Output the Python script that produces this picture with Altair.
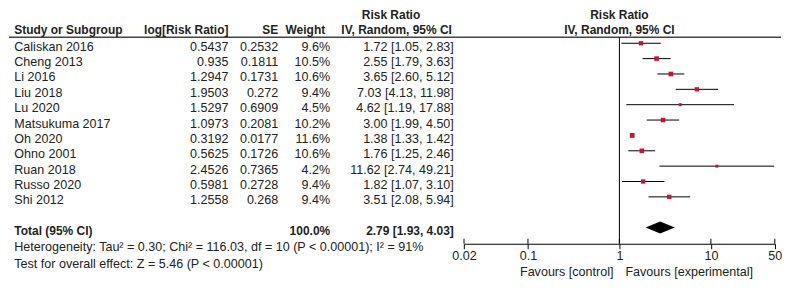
import altair as alt
import pandas as pd

# ---------------- data ----------------
studies = ["Caliskan 2016", "Cheng 2013", "Li 2016", "Liu 2018", "Lu 2020",
           "Matsukuma 2017", "Oh 2020", "Ohno 2001", "Ruan 2018", "Russo 2020", "Shi 2012"]
log_rr = ["0.5437", "0.935", "1.2947", "1.9503", "1.5297", "1.0973", "0.3192",
          "0.5625", "2.4526", "0.5981", "1.2558"]
se_vals = ["0.2532", "0.1811", "0.1731", "0.272", "0.6909", "0.2081", "0.0177",
           "0.1726", "0.7365", "0.2728", "0.268"]
weights = [9.6, 10.5, 10.6, 9.4, 4.5, 10.2, 11.6, 10.6, 4.2, 9.4, 9.4]
rr = [1.72, 2.55, 3.65, 7.03, 4.62, 3.00, 1.38, 1.76, 11.62, 1.82, 3.51]
ci_lo = [1.05, 1.79, 2.60, 4.13, 1.19, 1.99, 1.33, 1.25, 2.74, 1.07, 2.08]
ci_hi = [2.83, 3.63, 5.12, 11.98, 17.88, 4.50, 1.42, 2.46, 49.21, 3.10, 5.94]

total_weight = 100.0
total_rr, total_lo, total_hi = 2.79, 1.93, 4.03
het_text = "Heterogeneity: Tau\u00b2 = 0.30; Chi\u00b2 = 116.03, df = 10 (P < 0.00001); I\u00b2 = 91%"
test_text = "Test for overall effect: Z = 5.46 (P < 0.00001)"
axis_ticks = [0.02, 0.1, 1, 10, 50]

# ---------------- styling ----------------
F = "Liberation Sans"
FS = 12.6
FB = 12
TC = "#222222"
RED = "#CC1133"
DY = 7.5
H = 236  # plot height (axis line position)

xscale = alt.Scale(type="log", domain=[0.02, 50], range=[456.2, 767.8], nice=False)
yscale = alt.Scale(domain=[0, 10], range=[35, 189], nice=False, zero=False)
xaxis = alt.Axis(values=axis_ticks, format="~g", title=None, grid=False,
                 domainColor="black", tickColor="black", tickSize=5,
                 labelFont=F, labelFontSize=FS, labelColor=TC, labelPadding=1,
                 labelFlush=False, labelOverlap=False)

df = pd.DataFrame({
    "row": list(range(len(studies))),
    "study": studies,
    "logrr": log_rr,
    "se": se_vals,
    "w": weights,
    "wt": [f"{w:.1f}%" for w in weights],
    "ci": [f"{a:.2f} [{b:.2f}, {c:.2f}]" for a, b, c in zip(rr, ci_lo, ci_hi)],
    "rr": rr, "lo": ci_lo, "hi": ci_hi,
})

Yrow = alt.Y("row:Q", scale=yscale, axis=None)


def Yd(v):
    return alt.YDatum(v, scale=yscale, axis=None)


def col(field, xpx, align):
    return alt.Chart(df).mark_text(
        align=align, baseline="alphabetic", dy=DY, font=F, fontSize=FS, color=TC
    ).encode(x=alt.value(xpx), y=Yrow, text=f"{field}:N")


def label(text, x, row, align, bold=False, dx=0):
    return alt.Chart(pd.DataFrame({"t": [text]})).mark_text(
        align=align, baseline="alphabetic", dy=DY, dx=dx, font=F,
        fontSize=FB if bold else FS, fontWeight="bold" if bold else "normal", color=TC
    ).encode(x=x, y=Yd(row), text="t:N")


X1 = alt.XDatum(1, scale=xscale, axis=xaxis)
layers = []

# header rule and vertical line of no effect
layers.append(alt.Chart(pd.DataFrame({"t": [0]})).mark_rule(color="#444444", strokeWidth=1.5)
              .encode(x=alt.value(0), x2=alt.value(774), y=Yd(-0.39)))
layers.append(alt.Chart(pd.DataFrame({"t": [0]})).mark_rule(color="black", strokeWidth=1)
              .encode(x=X1, y=Yd(-0.39), y2=alt.value(H)))

# upward tick marks on axis
layers.append(alt.Chart(pd.DataFrame({"t": axis_ticks})).mark_rule(color="black")
              .encode(x=alt.X("t:Q", scale=xscale, axis=xaxis), y=alt.value(H - 5), y2=alt.value(H)))

# CI lines and squares
layers.append(alt.Chart(df).mark_rule(color="black", strokeWidth=1).encode(
    x=alt.X("lo:Q", scale=xscale, axis=xaxis), x2="hi:Q", y=Yrow))
layers.append(alt.Chart(df).mark_square(color=RED, opacity=1).encode(
    x=alt.X("rr:Q", scale=xscale, axis=xaxis), y=Yrow,
    size=alt.Size("w:Q", scale=alt.Scale(domain=[0, 12], range=[0, 24]), legend=None)))

# diamond for total
h = 0.39
dd = pd.DataFrame({"x": [total_lo, total_rr, total_hi],
                   "ya": [12, 12 - h, 12], "yb": [12, 12 + h, 12]})
layers.append(alt.Chart(dd).mark_area(color="black", orient="vertical", interpolate="linear")
              .encode(x=alt.X("x:Q", scale=xscale, axis=xaxis),
                      y=alt.Y("ya:Q", scale=yscale, axis=None), y2="yb:Q"))

# table columns
layers += [
    col("study", 5.3, "left"),
    col("logrr", 220, "right"),
    col("se", 270, "right"),
    col("wt", 322, "right"),
    col("ci", 446, "right"),
]

# headers
layers += [
    label("Risk Ratio", alt.value(383), -2.05, "center", bold=True),
    label("Study or Subgroup", alt.value(5.3), -1.07, "left", bold=True),
    label("log[Risk Ratio]", alt.value(220), -1.07, "right", bold=True),
    label("SE", alt.value(270), -1.07, "right", bold=True),
    label("Weight", alt.value(317), -1.07, "right", bold=True),
    label("IV, Random, 95% CI", alt.value(444), -1.07, "right", bold=True),
    label("Risk Ratio", X1, -2.05, "center", bold=True),
    label("IV, Random, 95% CI", X1, -1.07, "center", bold=True),
]

# total row and footer
layers += [
    label("Total (95% CI)", alt.value(5.3), 12, "left", bold=True),
    label(f"{total_weight:.1f}%", alt.value(322), 12, "right", bold=True),
    label(f"{total_rr:.2f} [{total_lo:.2f}, {total_hi:.2f}]", alt.value(446), 12, "right", bold=True),
    label(het_text, alt.value(5.3), 13.05, "left"),
    label(test_text, alt.value(5.3), 14.12, "left"),
    label("Favours [control]", X1, 14.69, "right", dx=-6),
    label("Favours [experimental]", X1, 14.69, "left", dx=6),
]

chart = alt.layer(*layers).properties(
    width=774, height=H, padding=0, background="white"
).configure_view(stroke=None)

chart.save("out.html", embed_options={"renderer": "svg", "actions": False})
